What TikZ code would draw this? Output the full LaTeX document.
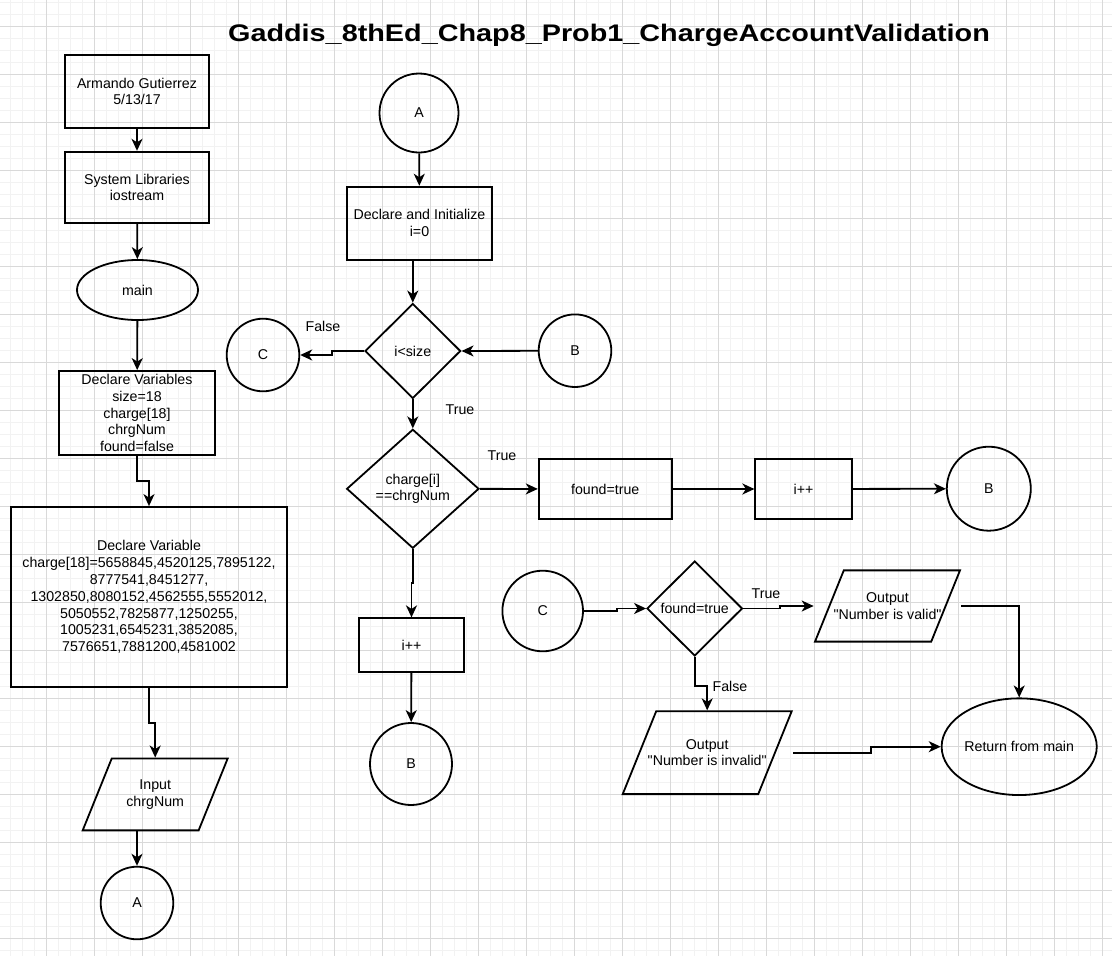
\documentclass[tikz,border=0pt]{standalone}
\usepackage{fontspec}
\setmainfont{Liberation Sans}
\usepackage{tikz}
\usetikzlibrary{shapes,arrows.meta}

\begin{document}
\begin{tikzpicture}[
    x=1pt, y=-1pt,
    every node/.style={font=\fontsize{14.2}{16.8}\selectfont},
    box/.style={rectangle, draw, line width=1.8pt, align=center, inner sep=0pt},
    term/.style={ellipse, draw, line width=1.8pt, align=center, inner sep=0pt},
    conn/.style={circle, draw, line width=1.8pt, inner sep=0pt},
    dec/.style={diamond, draw, line width=1.8pt, align=center, inner sep=0pt},
    io/.style={trapezium, trapezium left angle=68, trapezium right angle=112,
        trapezium stretches body=true, draw, line width=1.8pt, align=center, inner xsep=-20pt},
    arr/.style={-{Stealth[length=12pt, width=11pt, inset=3.5pt]}, line width=1.8pt},
    lbl/.style={inner sep=0pt},
    minorgrid/.style={black!5, line width=1.5pt},
    majorgrid/.style={black!15, line width=0.9pt}
]
    \useasboundingbox (0,0) rectangle (1112,956);
    \fill[white] (0,0) rectangle (1112,956);
    \foreach \gx in {10.3,22.3,...,1112} \draw[minorgrid] (\gx,0) -- (\gx,956);
    \foreach \gy in {2.3,14.3,...,956} \draw[minorgrid] (0,\gy) -- (1112,\gy);
    \foreach \gx in {46.3,94.3,...,1112} \draw[majorgrid] (\gx,0) -- (\gx,956);
    \foreach \gy in {26.3,74.3,...,956} \draw[majorgrid] (0,\gy) -- (1112,\gy);

    \node[font=\bfseries\fontsize{24}{28}\selectfont, anchor=base] (title) at (609,41)
        {\scalebox{1.2}[1]{Gaddis\_8thEd\_Chap8\_Prob1\_ChargeAccountValidation}};

    \node[box, minimum width=144pt, minimum height=72.7pt] (author) at (137,91.5) {Armando Gutierrez\\5/13/17};
    \node[box, minimum width=144pt, minimum height=71.6pt] (libs) at (137,187.5) {System Libraries\\iostream};
    \node[term, minimum width=121pt, minimum height=60pt] (main) at (137.5,290) {main};
    \node[box, minimum width=156pt, minimum height=84pt] (vars) at (137,413) {Declare Variables\\size=18\\charge[18]\\chrgNum\\found=false};
    \node[box, minimum width=276pt, minimum height=180pt] (array) at (149,597) {Declare Variable\\charge[18]=5658845,4520125,7895122,\\8777541,8451277,\\1302850,8080152,4562555,5552012,\\5050552,7825877,1250255,\\1005231,6545231,3852085,\\7576651,7881200,4581002};
    \node[io, minimum width=145pt, inner ysep=21.2pt] (input) at (155.2,794.4) {Input\\chrgNum};
    \node[conn, minimum size=72.6pt] (outA) at (137,903) {A};

    \node[conn, minimum size=79pt] (inA) at (419,113) {A};
    \node[box, minimum width=144.4pt, minimum height=73.3pt] (init) at (419.5,223.3) {Declare and Initialize\\i=0};
    \node[dec, minimum width=95.7pt, minimum height=95pt] (loop) at (412.8,351) {i<size};
    \node[conn, minimum size=72.6pt] (outC) at (263,355) {C};
    \node[conn, minimum size=72.6pt] (inB) at (575,350.7) {B};
    \node[dec, minimum width=132.3pt, minimum height=119pt] (match) at (412.8,488.8) {charge[i]\\==chrgNum};
    \node[box, minimum width=133pt, minimum height=60pt] (setfound) at (605.2,489) {found=true};
    \node[box, minimum width=96.4pt, minimum height=60pt] (incA) at (803.5,489) {i++};
    \node[conn, minimum size=84pt] (outBa) at (988.8,488.7) {B};
    \node[box, minimum width=105pt, minimum height=54pt] (incB) at (411.5,645.3) {i++};
    \node[conn, minimum size=82pt] (outBb) at (411,764) {B};

    \node[conn, minimum size=80.6pt] (inC) at (542.7,611) {C};
    \node[dec, minimum width=95.4pt, minimum height=95pt] (check) at (694.7,608.5) {found=true};
    \node[io, minimum width=145pt, inner ysep=22.2pt] (valid) at (887.5,606) {Output\\\textquotedbl Number is valid\textquotedbl};
    \node[io, minimum width=169pt, inner ysep=28pt] (invalid) at (707.2,752.7) {Output\\\textquotedbl Number is invalid\textquotedbl};
    \node[term, minimum width=145pt, minimum height=96.7pt] (ret) at (1019.2,746.7) {Return from main};

    \node[lbl] (lf1) at (323,326) {False};
    \node[lbl] (lt1) at (460,410) {True};
    \node[lbl] (lt2) at (502,456) {True};
    \node[lbl] (lt3) at (766,594) {True};
    \node[lbl] (lf2) at (730,686) {False};

    \draw[arr] (author) -- (libs);
    \draw[arr] (libs) -- (main);
    \draw[arr] (main) -- (vars);
    \draw[arr] (vars.south) -- ++(0,25) -| (array.north);
    \draw[arr] (array.south) -- ++(0,35) -| (input.north);
    \draw[arr] (outA |- input.south) -- (outA.north);

    \draw[arr] (inA) -- (init);
    \draw[arr] (loop.north |- init.south) -- (loop.north);
    \draw[arr] (inB) -- (loop.east);
    \draw[arr] (loop.west) -- ++(-32,0) |- (outC.east);
    \draw[arr] (loop) -- (match);
    \draw[arr] (match) -- (setfound);
    \draw[arr] (setfound) -- (incA);
    \draw[arr] (incA) -- (outBa);
    \draw[arr] (match.south) -- ++(0,34) -| (incB.north);
    \draw[arr] (incB) -- (outBb);

    \draw[arr] (inC.east) -- ++(33,0) |- (check.west);
    \draw[arr] (check.east) -- ++(37,0) |- (valid.west -| valid.bottom left corner);
    \draw[arr] (valid.east -| valid.top right corner) -| (ret.north);
    \draw[arr] (check.south) -- ++(0,29) -| (invalid.north);
    \draw[arr] (invalid.east -| invalid.top right corner) -- ++(77.6,0) |- (ret.west);
\end{tikzpicture}
\end{document}
